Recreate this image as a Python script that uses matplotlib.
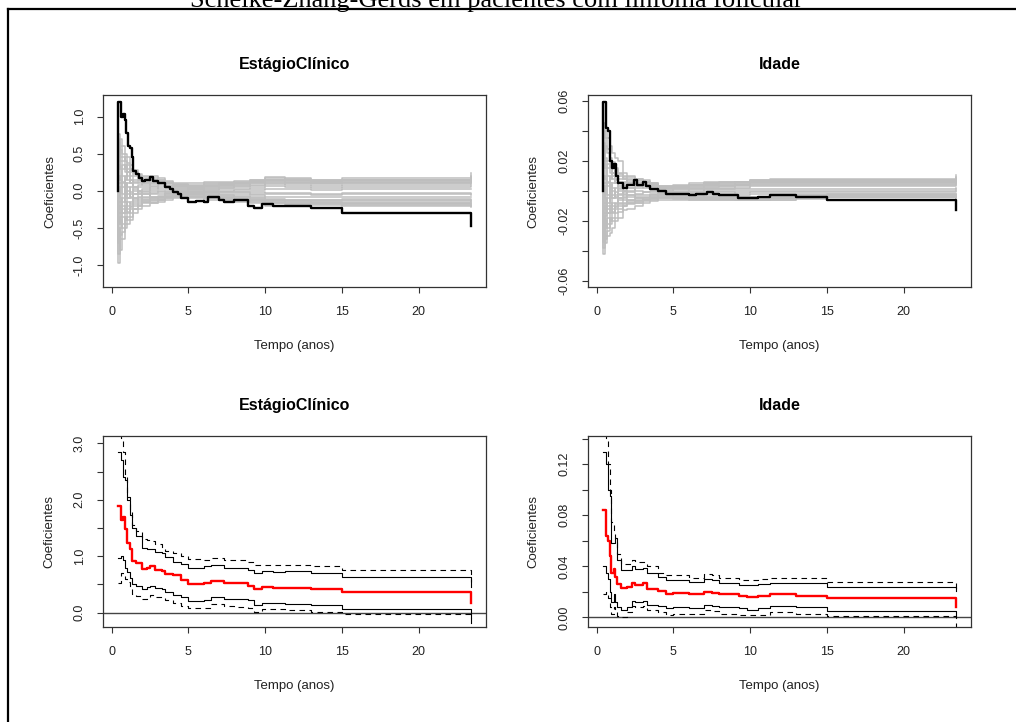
import matplotlib
matplotlib.use('Agg')
import matplotlib.pyplot as plt
from matplotlib.lines import Line2D

plt.rcParams['font.family'] = ['Liberation Sans', 'DejaVu Sans']

W, H = 1016, 722

# ---------------- dados ----------------
# processos observados (linha preta, painéis de cima)
estagio_obs_t = [0.44, 0.44, 0.6, 0.75, 0.85, 0.95, 1.05, 1.2, 1.3, 1.4, 1.6, 1.8, 2.0, 2.2, 2.5, 2.7,
                 3.0, 3.3, 3.5, 3.8, 4.0, 4.3, 4.5, 5.0, 5.5, 6.0, 6.3, 7.0, 7.3, 8.0, 8.9, 9.3, 9.8,
                 10.5, 13.0, 15.0, 23.45]
estagio_obs = [0.0, 1.19, 1.0, 1.04, 0.95, 0.78, 0.6, 0.57, 0.45, 0.27, 0.22, 0.17, 0.13, 0.15, 0.18, 0.13,
               0.10, 0.11, 0.05, 0.02, -0.02, -0.05, -0.10, -0.15, -0.14, -0.15, -0.09, -0.12, -0.15, -0.13,
               -0.20, -0.23, -0.18, -0.20, -0.23, -0.30, -0.48]

idade_obs_t = [0.44, 0.44, 0.6, 0.75, 0.85, 1.0, 1.1, 1.25, 1.4, 1.7, 2.0, 2.4, 2.6, 3.0, 3.2, 3.5, 4.0,
               4.5, 6.0, 6.5, 7.2, 7.6, 8.0, 9.2, 10.5, 11.3, 13.0, 15.0, 23.45]
idade_obs = [0.0, 0.059, 0.042, 0.040, 0.020, 0.015, 0.018, 0.010, 0.005, 0.002, 0.004, 0.007, 0.004,
             0.006, 0.003, 0.001, 0.0, -0.002, -0.003, -0.002, -0.001, -0.002, -0.003, -0.005, -0.004,
             -0.003, -0.004, -0.0065, -0.013]

# processos simulados (cinza), todos partem de 0
sim_t = [0.44, 0.55, 0.7, 0.85, 1.0, 1.2, 1.4, 1.7, 2.0, 2.5, 3.0, 3.5, 4.0, 5.0, 6.0, 7.0, 8.0, 9.0,
         10.0, 11.3, 13.0, 15.0, 23.45]
sim_start = 0.0

estagio_sim = [
    [-0.97, -0.6, -0.3, -0.2, -0.1, 0.05, 0.1, 0.12, 0.08, 0.1, 0.12, 0.1, 0.08, 0.07, 0.1, 0.11, 0.12, 0.14, 0.17, 0.16, 0.15, 0.17, 0.24],
    [0.77, 0.6, 0.45, 0.3, 0.2, 0.1, 0.05, 0.0, -0.05, -0.08, -0.1, -0.08, -0.06, -0.08, -0.1, -0.12, -0.14, -0.17, -0.2, -0.2, -0.19, -0.2, -0.22],
    [-0.5, -0.8, -0.65, -0.5, -0.45, -0.4, -0.3, -0.25, -0.2, -0.17, -0.15, -0.12, -0.1, -0.1, -0.12, -0.13, -0.15, -0.15, -0.17, -0.18, -0.17, -0.18, -0.2],
    [0.5, 0.7, 0.6, 0.5, 0.45, 0.35, 0.28, 0.22, 0.2, 0.2, 0.17, 0.13, 0.1, 0.1, 0.12, 0.12, 0.13, 0.15, 0.18, 0.17, 0.14, 0.15, 0.2],
    [-0.3, -0.45, -0.5, -0.3, -0.2, -0.25, -0.2, -0.15, -0.1, -0.12, -0.08, -0.05, -0.03, -0.05, -0.07, -0.09, -0.1, -0.12, -0.14, -0.15, -0.15, -0.16, -0.17],
    [0.3, 0.4, 0.3, 0.35, 0.3, 0.25, 0.2, 0.15, 0.12, 0.15, 0.13, 0.1, 0.07, 0.05, 0.06, 0.08, 0.1, 0.12, 0.14, 0.13, 0.12, 0.13, 0.16],
    [-0.7, -0.5, -0.35, -0.4, -0.3, -0.2, -0.1, -0.05, 0.0, 0.03, 0.05, 0.06, 0.05, 0.04, 0.05, 0.06, 0.08, 0.1, 0.12, 0.11, 0.1, 0.11, 0.13],
    [0.6, 0.3, 0.2, 0.1, 0.05, -0.05, -0.1, -0.12, -0.15, -0.13, -0.12, -0.1, -0.08, -0.07, -0.08, -0.1, -0.12, -0.13, -0.15, -0.16, -0.14, -0.14, -0.15],
    [-0.2, -0.3, -0.2, -0.1, 0.1, 0.15, 0.12, 0.1, 0.15, 0.12, 0.08, 0.05, 0.03, 0.02, 0.03, 0.04, 0.05, 0.07, 0.09, 0.08, 0.07, 0.08, 0.1],
    [0.15, 0.2, 0.05, -0.15, -0.25, -0.3, -0.25, -0.2, -0.17, -0.15, -0.1, -0.07, -0.05, -0.04, -0.05, -0.06, -0.07, -0.09, -0.11, -0.12, -0.12, -0.11, -0.12],
    [-0.85, -0.65, -0.55, -0.45, -0.35, -0.15, -0.05, 0.05, 0.05, 0.0, -0.02, 0.0, 0.01, 0.0, 0.01, 0.02, 0.03, 0.04, 0.06, 0.05, 0.04, 0.05, 0.06],
    [0.4, 0.55, 0.5, 0.4, 0.25, 0.15, 0.0, -0.05, -0.08, -0.05, -0.05, -0.03, -0.02, -0.02, -0.03, -0.04, -0.04, -0.06, -0.08, -0.08, -0.09, -0.08, -0.09],
    [-0.4, -0.2, 0.1, 0.2, 0.15, 0.1, 0.15, 0.2, 0.18, 0.17, 0.15, 0.12, 0.09, 0.08, 0.09, 0.1, 0.11, 0.13, 0.15, 0.15, 0.13, 0.15, 0.18],
    [0.05, -0.1, -0.15, 0.0, -0.05, -0.1, -0.15, -0.1, -0.05, -0.08, -0.07, -0.05, -0.04, -0.03, -0.02, -0.02, -0.01, -0.02, -0.03, -0.03, -0.04, -0.03, -0.04],
    [-0.6, -0.4, -0.45, -0.35, -0.4, -0.35, -0.25, -0.18, -0.12, -0.1, -0.13, -0.1, -0.07, -0.08, -0.1, -0.11, -0.12, -0.14, -0.17, -0.18, -0.18, -0.19, -0.21],
    [0.2, 0.1, 0.35, 0.25, 0.35, 0.2, 0.05, 0.08, 0.1, 0.06, 0.03, 0.02, 0.0, 0.01, 0.0, 0.0, 0.01, 0.01, 0.02, 0.02, 0.01, 0.02, 0.03],
    [-0.15, 0.05, -0.05, 0.1, 0.0, -0.08, 0.02, 0.0, 0.03, 0.05, 0.1, 0.08, 0.06, 0.05, 0.07, 0.08, 0.09, 0.11, 0.13, 0.12, 0.11, 0.12, 0.14],
    [0.1, -0.25, -0.3, -0.25, -0.15, -0.18, -0.12, -0.08, -0.12, -0.1, -0.09, -0.07, -0.06, -0.06, -0.06, -0.07, -0.08, -0.1, -0.12, -0.13, -0.13, -0.13, -0.14],
    [-0.45, -0.35, -0.1, 0.15, 0.25, 0.28, 0.22, 0.15, 0.1, 0.09, 0.1, 0.07, 0.04, 0.03, 0.04, 0.05, 0.06, 0.08, 0.1, 0.1, 0.09, 0.1, 0.12],
    [0.35, 0.15, 0.12, -0.05, -0.1, -0.02, -0.05, -0.02, -0.02, -0.03, 0.0, -0.01, -0.01, -0.01, -0.01, -0.01, -0.02, -0.04, -0.05, -0.05, -0.06, -0.05, -0.06],
    [-0.25, -0.15, -0.25, -0.2, -0.28, -0.22, -0.18, -0.2, -0.15, -0.16, -0.12, -0.09, -0.08, -0.09, -0.09, -0.1, -0.11, -0.11, -0.13, -0.14, -0.16, -0.17, -0.18],
    [0.65, 0.45, 0.4, 0.45, 0.38, 0.3, 0.25, 0.18, 0.16, 0.14, 0.14, 0.11, 0.08, 0.06, 0.08, 0.09, 0.1, 0.12, 0.15, 0.14, 0.13, 0.14, 0.17],
]

idade_sim = [
    [-0.042, -0.03, -0.015, -0.01, -0.005, 0.002, 0.005, 0.006, 0.004, 0.005, 0.006, 0.004, 0.002, 0.003, 0.004, 0.005, 0.005, 0.006, 0.007, 0.0075, 0.0075, 0.0075, 0.0105],
    [0.045, 0.035, 0.025, 0.015, 0.01, 0.005, 0.002, 0.0, -0.003, -0.005, -0.006, -0.005, -0.004, -0.005, -0.006, -0.006, -0.006, -0.006, -0.006, -0.006, -0.0055, -0.004, -0.005],
    [-0.02, -0.035, -0.03, -0.028, -0.025, -0.02, -0.018, -0.013, -0.012, -0.01, -0.008, -0.007, -0.006, -0.006, -0.005, -0.005, -0.005, -0.005, -0.005, -0.005, -0.0045, -0.004, -0.004],
    [0.02, 0.04, 0.035, 0.03, 0.025, 0.022, 0.02, 0.012, 0.01, 0.008, 0.007, 0.005, 0.003, 0.004, 0.005, 0.006, 0.006, 0.006, 0.0065, 0.007, 0.0072, 0.0072, 0.009],
    [-0.015, -0.02, -0.022, -0.015, -0.01, -0.012, -0.01, -0.008, -0.006, -0.007, -0.005, -0.003, -0.002, -0.003, -0.004, -0.004, -0.005, -0.005, -0.005, -0.004, -0.004, -0.003, -0.003],
    [0.015, 0.02, 0.015, 0.018, 0.015, 0.012, 0.01, 0.008, 0.006, 0.007, 0.005, 0.004, 0.002, 0.002, 0.003, 0.004, 0.004, 0.005, 0.006, 0.006, 0.006, 0.006, 0.008],
    [-0.03, -0.025, -0.018, -0.02, -0.015, -0.01, -0.005, -0.002, 0.0, 0.002, 0.003, 0.002, 0.001, 0.001, 0.002, 0.003, 0.003, 0.004, 0.005, 0.005, 0.005, 0.005, 0.006],
    [0.03, 0.015, 0.01, 0.005, 0.002, -0.003, -0.005, -0.006, -0.008, -0.007, -0.006, -0.005, -0.004, -0.004, -0.005, -0.005, -0.005, -0.006, -0.006, -0.005, -0.005, -0.0035, -0.005],
    [-0.01, -0.015, -0.01, -0.005, 0.005, 0.008, 0.006, 0.005, 0.007, 0.006, 0.004, 0.003, 0.001, 0.0, 0.001, 0.002, 0.002, 0.003, 0.004, 0.004, 0.004, 0.004, 0.005],
    [0.008, 0.01, 0.003, -0.008, -0.012, -0.015, -0.012, -0.01, -0.009, -0.008, -0.006, -0.004, -0.003, -0.002, -0.003, -0.003, -0.004, -0.004, -0.004, -0.003, -0.003, -0.003, -0.003],
    [-0.038, -0.032, -0.027, -0.022, -0.018, -0.008, -0.002, 0.003, 0.002, 0.0, -0.001, 0.0, 0.0, -0.001, 0.0, 0.001, 0.001, 0.002, 0.003, 0.003, 0.003, 0.003, 0.004],
    [0.025, 0.03, 0.028, 0.02, 0.012, 0.007, 0.0, -0.003, -0.004, -0.003, -0.003, -0.002, -0.002, -0.002, -0.002, -0.002, -0.002, -0.003, -0.002, -0.002, -0.002, -0.002, -0.002],
    [-0.025, -0.01, 0.005, 0.01, 0.008, 0.005, 0.008, 0.01, 0.009, 0.008, 0.006, 0.005, 0.003, 0.003, 0.004, 0.005, 0.006, 0.006, 0.007, 0.0072, 0.007, 0.007, 0.008],
    [0.003, -0.005, -0.008, 0.0, -0.003, -0.005, -0.008, -0.005, -0.003, -0.004, -0.004, -0.003, -0.001, -0.001, -0.001, 0.0, 0.0, 0.0, 0.0, 0.0, 0.0, 0.0, 0.001],
    [-0.034, -0.02, -0.025, -0.018, -0.02, -0.018, -0.014, -0.01, -0.007, -0.006, -0.007, -0.006, -0.005, -0.005, -0.006, -0.006, -0.006, -0.006, -0.006, -0.006, -0.005, -0.004, -0.0045],
    [0.01, 0.005, 0.018, 0.012, 0.018, 0.01, 0.003, 0.004, 0.005, 0.003, 0.002, 0.001, 0.0, 0.001, 0.001, 0.001, 0.001, 0.001, 0.001, 0.001, 0.001, 0.001, 0.002],
    [-0.008, 0.003, -0.003, 0.005, 0.0, -0.004, 0.001, 0.0, 0.002, 0.003, 0.004, 0.003, 0.002, 0.002, 0.003, 0.0035, 0.004, 0.0045, 0.0055, 0.0055, 0.0055, 0.0055, 0.007],
    [0.005, -0.012, -0.015, -0.012, -0.008, -0.009, -0.006, -0.004, -0.006, -0.005, -0.005, -0.004, -0.003, -0.0035, -0.0035, -0.004, -0.004, -0.0045, -0.0045, -0.004, -0.0035, -0.0025, -0.0025],
    [-0.022, -0.017, -0.005, 0.008, 0.012, 0.014, 0.011, 0.008, 0.005, 0.004, 0.004, 0.003, 0.002, 0.0015, 0.002, 0.0025, 0.003, 0.0035, 0.0045, 0.0045, 0.0045, 0.0045, 0.0055],
    [0.018, 0.008, 0.006, -0.003, -0.005, -0.001, -0.003, -0.001, -0.001, -0.002, -0.001, -0.001, -0.0015, -0.0015, -0.0015, -0.001, -0.001, -0.0015, -0.001, -0.001, -0.001, -0.001, -0.0005],
    [-0.012, -0.008, -0.012, -0.01, -0.014, -0.011, -0.009, -0.009, -0.008, -0.008, -0.006, -0.0055, -0.005, -0.0055, -0.0055, -0.0055, -0.0055, -0.0055, -0.0055, -0.005, -0.0045, -0.0035, -0.0035],
    [0.032, 0.022, 0.02, 0.022, 0.019, 0.015, 0.012, 0.009, 0.008, 0.007, 0.006, 0.0045, 0.0025, 0.0025, 0.0035, 0.0045, 0.005, 0.0055, 0.006, 0.0065, 0.0065, 0.0065, 0.0085],
]

# coeficientes acumulados com bandas (painéis de baixo)
estagio_t = [0.44, 0.6, 0.75, 0.85, 1.0, 1.2, 1.35, 1.6, 2.0, 2.3, 2.5, 2.8, 3.3, 3.5, 4.0, 4.5, 5.0,
             6.0, 6.5, 7.3, 8.0, 8.9, 9.3, 9.8, 10.5, 11.3, 13.0, 15.0, 23.45]
estagio_coef = [1.89, 1.65, 1.70, 1.49, 1.24, 1.12, 0.91, 0.88, 0.77, 0.80, 0.82, 0.76, 0.74, 0.69, 0.66,
                0.58, 0.50, 0.52, 0.56, 0.52, 0.53, 0.48, 0.42, 0.45, 0.44, 0.44, 0.42, 0.37, 0.18]
estagio_pw_up = [2.85, 2.70, 2.40, 2.35, 2.00, 1.73, 1.50, 1.35, 1.15, 1.13, 1.12, 1.07, 1.05, 0.98, 0.90,
                 0.87, 0.80, 0.82, 0.85, 0.80, 0.80, 0.76, 0.70, 0.74, 0.72, 0.74, 0.70, 0.64, 0.46]
estagio_pw_lo = [0.97, 1.00, 0.93, 0.80, 0.72, 0.62, 0.50, 0.47, 0.42, 0.45, 0.47, 0.43, 0.42, 0.36, 0.32,
                 0.27, 0.20, 0.22, 0.27, 0.24, 0.25, 0.22, 0.14, 0.18, 0.17, 0.16, 0.14, 0.07, -0.10]
estagio_un_up = [3.30, 3.10, 2.85, 2.40, 2.05, 1.80, 1.55, 1.45, 1.30, 1.28, 1.27, 1.22, 1.15, 1.10, 1.05,
                 1.00, 0.95, 0.93, 0.97, 0.93, 0.93, 0.90, 0.84, 0.85, 0.85, 0.85, 0.83, 0.75, 0.55]
estagio_un_lo = [0.52, 0.70, 0.65, 0.60, 0.55, 0.45, 0.33, 0.30, 0.25, 0.28, 0.31, 0.28, 0.26, 0.22, 0.18,
                 0.12, 0.08, 0.08, 0.15, 0.12, 0.10, 0.08, 0.02, 0.06, 0.06, 0.05, 0.02, -0.03, -0.30]

idade_t = [0.44, 0.6, 0.75, 0.85, 0.95, 1.1, 1.2, 1.35, 1.6, 2.0, 2.3, 2.5, 3.0, 3.3, 4.0, 4.5, 5.0,
           6.0, 7.0, 7.5, 8.0, 9.3, 9.8, 10.5, 11.3, 13.0, 15.0, 23.45]
idade_coef = [0.084, 0.064, 0.060, 0.048, 0.035, 0.038, 0.032, 0.026, 0.023, 0.024, 0.027, 0.025, 0.027,
              0.022, 0.021, 0.018, 0.019, 0.018, 0.020, 0.019, 0.018, 0.017, 0.016, 0.017, 0.018, 0.017,
              0.015, 0.008]
idade_pw_up = [0.130, 0.120, 0.100, 0.095, 0.058, 0.058, 0.062, 0.045, 0.037, 0.037, 0.040, 0.038, 0.039,
               0.035, 0.032, 0.029, 0.029, 0.028, 0.030, 0.029, 0.027, 0.025, 0.025, 0.026, 0.027, 0.027,
               0.024, 0.021]
idade_pw_lo = [0.040, 0.035, 0.030, 0.020, 0.012, 0.018, 0.012, 0.008, 0.006, 0.008, 0.013, 0.012, 0.013,
               0.010, 0.009, 0.007, 0.008, 0.007, 0.010, 0.009, 0.008, 0.007, 0.006, 0.007, 0.009, 0.008,
               0.005, 0.001]
idade_un_up = [0.150, 0.140, 0.120, 0.100, 0.075, 0.065, 0.062, 0.050, 0.042, 0.042, 0.045, 0.043, 0.043,
               0.040, 0.035, 0.033, 0.033, 0.031, 0.034, 0.033, 0.031, 0.029, 0.029, 0.030, 0.031, 0.031,
               0.028, 0.021]
idade_un_lo = [0.018, 0.020, 0.015, 0.008, 0.003, 0.008, 0.005, 0.001, 0.000, 0.004, 0.009, 0.008, 0.009,
               0.006, 0.004, 0.002, 0.003, 0.003, 0.006, 0.005, 0.003, 0.002, 0.002, 0.002, 0.004, 0.003,
               0.001, -0.010]

x_ticks = [0, 5, 10, 15, 20]


# ---------------- figura ----------------
fig = plt.figure(figsize=(W / 100, H / 100), dpi=100)
fig.patch.set_facecolor('white')


def make_ax(left, right, top, bottom):
    return fig.add_axes([left / W, 1 - bottom / H, (right - left) / W, (bottom - top) / H])


def style(ax, title, ylim, yticks, ylabels, ylab_x):
    ax.set_xlim(-0.59, 24.4)
    ax.set_ylim(*ylim)
    ax.set_xticks(x_ticks)
    ax.set_yticks(yticks)
    ax.set_yticklabels(ylabels, rotation=90, va='center')
    for s in ax.spines.values():
        s.set_color('#333333')
        s.set_linewidth(0.9)
    ax.tick_params(direction='out', length=4.3, width=0.8, colors='#333333',
                   labelsize=9, labelcolor='#222222')
    ax.tick_params(axis='x', pad=9.0)
    ax.tick_params(axis='y', pad=8.0)
    ax.text(0.5, 1 + 26 / 192.3, title, transform=ax.transAxes, ha='center',
            va='baseline', fontsize=11.5, fontweight='bold')
    ax.set_xlabel('Tempo (anos)', fontsize=9.5, color='#222222')
    ax.set_ylabel('Coeficientes', fontsize=9.5, color='#222222')
    ax.xaxis.set_label_coords(0.5, -0.274)
    ax.yaxis.set_label_coords(ylab_x, 0.5)


def step(ax, t, y, **kw):
    ax.plot(t, y, drawstyle='steps-post', **kw)


# painel 1: EstágioClínico (processos)
ax1 = make_ax(102.7, 486, 95, 287.3)
for path in estagio_sim:
    step(ax1, [sim_t[0]] + sim_t, [sim_start] + path, color='#BEBEBE', lw=1.1)
step(ax1, estagio_obs_t, estagio_obs, color='black', lw=1.7)
style(ax1, 'EstágioClínico', (-1.30, 1.29), [-1.0, -0.5, 0.0, 0.5, 1.0],
      ['-1.0', '-0.5', '0.0', '0.5', '1.0'], -0.121)

# painel 2: Idade (processos)
ax2 = make_ax(587.7, 971, 95, 287.3)
for path in idade_sim:
    step(ax2, [sim_t[0]] + sim_t, [sim_start] + path, color='#BEBEBE', lw=1.1)
step(ax2, idade_obs_t, idade_obs, color='black', lw=1.7)
style(ax2, 'Idade', (-0.0644, 0.0638), [-0.06, -0.04, -0.02, 0.0, 0.02, 0.04, 0.06],
      ['-0.06', '', '-0.02', '', '0.02', '', '0.06'], -0.127)

# painel 3: EstágioClínico (coeficiente com bandas)
ax3 = make_ax(102.7, 486, 435.7, 627.3)
ax3.axhline(0, color='#444444', lw=1.0)
step(ax3, estagio_t, estagio_coef, color='red', lw=1.7)
step(ax3, estagio_t, estagio_pw_up, color='black', lw=0.8)
step(ax3, estagio_t, estagio_pw_lo, color='black', lw=0.8)
step(ax3, estagio_t, estagio_un_up, color='black', lw=0.8, ls=(0, (5, 4)))
step(ax3, estagio_t, estagio_un_lo, color='black', lw=0.8, ls=(0, (5, 4)))
style(ax3, 'EstágioClínico', (-0.259, 3.135), [0.0, 0.5, 1.0, 1.5, 2.0, 2.5, 3.0],
      ['0.0', '', '1.0', '', '2.0', '', '3.0'], -0.124)

# painel 4: Idade (coeficiente com bandas)
ax4 = make_ax(587.7, 971, 435.7, 627.3)
ax4.axhline(0, color='#444444', lw=1.0)
step(ax4, idade_t, idade_coef, color='red', lw=1.7)
step(ax4, idade_t, idade_pw_up, color='black', lw=0.8)
step(ax4, idade_t, idade_pw_lo, color='black', lw=0.8)
step(ax4, idade_t, idade_un_up, color='black', lw=0.8, ls=(0, (5, 4)))
step(ax4, idade_t, idade_un_lo, color='black', lw=0.8, ls=(0, (5, 4)))
style(ax4, 'Idade', (-0.0078, 0.1424), [0.0, 0.02, 0.04, 0.06, 0.08, 0.10, 0.12, 0.14],
      ['0.00', '', '0.04', '', '0.08', '', '0.12', ''], -0.126)

# moldura e título cortado no topo
fig.add_artist(Line2D([8 / W, 1], [1 - 9 / H, 1 - 9 / H], color='black', lw=1.6,
                      transform=fig.transFigure))
fig.add_artist(Line2D([8 / W, 8 / W], [0, 1 - 9 / H], color='black', lw=1.6,
                      transform=fig.transFigure))
fig.text(496.5 / W, 1 - 7 / H, 'Scheike-Zhang-Gerds em pacientes com linfoma folicular',
         family=['Liberation Serif', 'DejaVu Serif'], fontsize=19, ha='center', va='baseline')

fig.savefig('out.png', dpi=100)
